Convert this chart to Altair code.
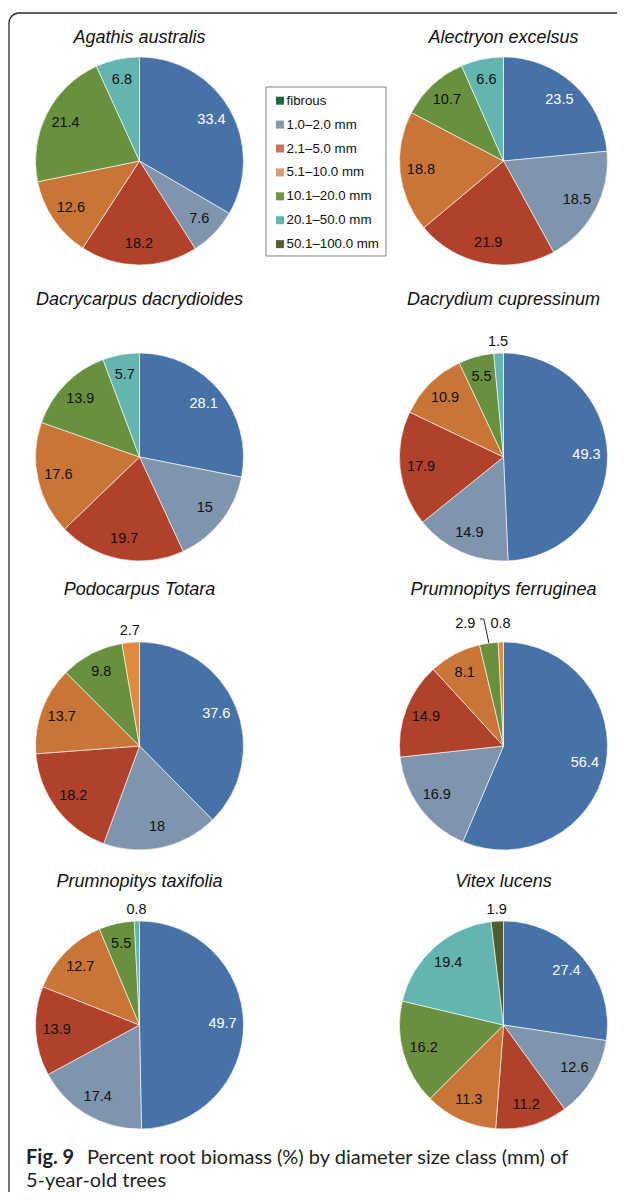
import altair as alt
import pandas as pd

# ---------------- data ----------------
SPECIES = [
    "Agathis australis", "Alectryon excelsus",
    "Dacrycarpus dacrydioides", "Dacrydium cupressinum",
    "Podocarpus Totara", "Prumnopitys ferruginea",
    "Prumnopitys taxifolia", "Vitex lucens",
]
CLASSES = ["fibrous", "1.0–2.0 mm", "2.1–5.0 mm", "5.1–10.0 mm",
           "10.1–20.0 mm", "20.1–50.0 mm", "50.1–100.0 mm"]

AGATHIS = [33.4, 7.6, 18.2, 12.6, 21.4, 6.8]
ALECTRYON = [23.5, 18.5, 21.9, 18.8, 10.7, 6.6]
DACRYCARPUS = [28.1, 15, 19.7, 17.6, 13.9, 5.7]
DACRYDIUM = [49.3, 14.9, 17.9, 10.9, 5.5, 1.5]
PODOCARPUS = [37.6, 18, 18.2, 13.7, 9.8, 2.7]
FERRUGINEA = [56.4, 16.9, 14.9, 8.1, 2.9, 0.8]
TAXIFOLIA = [49.7, 17.4, 13.9, 12.7, 5.5, 0.8]
VITEX = [27.4, 12.6, 11.2, 11.3, 16.2, 19.4, 1.9]
VALUES = [AGATHIS, ALECTRYON, DACRYCARPUS, DACRYDIUM,
          PODOCARPUS, FERRUGINEA, TAXIFOLIA, VITEX]

CAPTION_BOLD = "Fig. 9"
CAPTION_LINE1 = "Percent root biomass (%) by diameter size class (mm) of"
CAPTION_LINE2 = "5-year-old trees"

# ---------------- styles ----------------
PIE_KEYS = CLASSES + ["alt"]
PIE_COLORS = ["#4672a8", "#7f95ad", "#b0412a", "#c97538",
              "#69913d", "#63b6af", "#505c2b", "#e08b3b"]
ALT_SLICE_SPECIES = ["Podocarpus Totara", "Prumnopitys ferruginea"]
LEGEND_COLORS = ["#1d6b3f", "#8498af", "#c8735b", "#dc9c70",
                 "#6b9744", "#62b8b1", "#55602f"]

FONT = "Liberation Sans"
CAP_FONT = "Lato"

# layout (view coordinates; page = view + 8)
PIE_X = [131.5, 495.5]
PIE_Y = [153, 449, 738, 1017]
TITLE_Y = [30, 292, 582, 874]
R = 104
R_IN = 83
R_OUT = 115

records = []
for p, (sp, vals) in enumerate(zip(SPECIES, VALUES)):
    for k, v in enumerate(vals):
        key = "alt" if (sp in ALT_SLICE_SPECIES and k == 5) else CLASSES[k]
        records.append({"species": sp, "panel": p, "order": k,
                        "cls": CLASSES[k], "ckey": key,
                        "value": v, "lab": f"{v:g}"})
df = pd.DataFrame(records)

cx_expr = f"datum.panel % 2 == 0 ? {PIE_X[0]} : {PIE_X[1]}"
cy_expr = f"{PIE_Y}[floor(datum.panel / 2)]"
ty_expr = f"{TITLE_Y}[floor(datum.panel / 2)]"

base = (
    alt.Chart(df)
    .transform_joinaggregate(total="sum(value)", groupby=["species"])
    .transform_window(cum="sum(value)", nxt="lead(value)", prv="lag(value)",
                      groupby=["species"], sort=[alt.SortField("order")],
                      frame=[None, 0])
    .transform_calculate(
        start="100 * (datum.cum - datum.value) / datum.total",
        end="100 * datum.cum / datum.total",
        ang="2 * PI * (datum.cum - datum.value / 2) / datum.total",
        cx=cx_expr,
        cy=cy_expr,
    )
    .transform_calculate(
        snext="datum.nxt != null && datum.nxt < 4",
        sprev="datum.prv != null && datum.prv < 4",
    )
)

pies = base.mark_arc(outerRadius=R, stroke="white", strokeWidth=0.6).encode(
    x=alt.X("cx:Q", scale=None, axis=None),
    y=alt.Y("cy:Q", scale=None, axis=None),
    theta=alt.Theta("start:Q", scale=alt.Scale(domain=[0, 100]), stack=None),
    theta2="end:Q",
    color=alt.Color("ckey:N", scale=alt.Scale(domain=PIE_KEYS, range=PIE_COLORS), legend=None),
)

inside = (
    base.transform_filter("datum.value >= 4")
    .transform_calculate(
        lx=f"datum.cx + {R_IN} * sin(datum.ang)",
        ly=f"datum.cy - {R_IN} * cos(datum.ang)",
    )
    .mark_text(font=FONT, fontSize=14.5, baseline="middle", align="center")
    .encode(
        x=alt.X("lx:Q", scale=None, axis=None),
        y=alt.Y("ly:Q", scale=None, axis=None),
        text="lab:N",
        color=alt.condition("datum.order == 0", alt.value("white"), alt.value("#111111")),
    )
)

outside = (
    base.transform_filter("datum.value < 4")
    .transform_calculate(
        lx=f"datum.cx + {R_OUT} * sin(datum.ang) + (datum.snext ? -22 : 0)",
        ly=f"(datum.snext || datum.sprev) ? datum.cy - 122 : datum.cy - {R_OUT} * cos(datum.ang)",
    )
    .mark_text(font=FONT, fontSize=14.5, baseline="middle", align="center", color="#111111")
    .encode(
        x=alt.X("lx:Q", scale=None, axis=None),
        y=alt.Y("ly:Q", scale=None, axis=None),
        text="lab:N",
    )
)

leader_base = base.transform_filter("datum.value < 4 && datum.snext").transform_calculate(
    ex=f"datum.cx + {R} * sin(datum.ang)",
    ey=f"datum.cy - {R} * cos(datum.ang)",
).transform_calculate(
    kx="datum.ex - 5",
    ky="datum.cy - 127",
    hx="datum.ex - 9",
)
leader1 = leader_base.mark_rule(color="#222222", strokeWidth=1).encode(
    x=alt.X("ex:Q", scale=None, axis=None), y=alt.Y("ey:Q", scale=None, axis=None),
    x2="kx:Q", y2="ky:Q",
)
leader2 = leader_base.mark_rule(color="#222222", strokeWidth=1).encode(
    x=alt.X("kx:Q", scale=None, axis=None), y=alt.Y("ky:Q", scale=None, axis=None),
    x2="hx:Q", y2="ky:Q",
)

titles = (
    alt.Chart(pd.DataFrame({"species": SPECIES, "panel": list(range(len(SPECIES)))}))
    .transform_calculate(tx=cx_expr, ty=ty_expr)
    .mark_text(font=FONT, fontSize=18, fontStyle="italic", baseline="middle",
               align="center", color="#111111")
    .encode(x=alt.X("tx:Q", scale=None, axis=None),
            y=alt.Y("ty:Q", scale=None, axis=None),
            text="species:N")
)

# legend
leg_df = pd.DataFrame({"cls": CLASSES, "i": list(range(len(CLASSES)))})
leg_base = alt.Chart(leg_df).transform_calculate(ly="92.7 + 23.9 * datum.i")
leg_sw = leg_base.mark_square(size=64, filled=True, opacity=1).encode(
    x=alt.value(272),
    y=alt.Y("ly:Q", scale=None, axis=None),
    color=alt.Color("cls:N", scale=alt.Scale(domain=CLASSES, range=LEGEND_COLORS), legend=None),
)
leg_tx = leg_base.mark_text(font=FONT, fontSize=13.3, align="left", baseline="middle",
                            color="#111111").encode(
    x=alt.value(278.5),
    y=alt.Y("ly:Q", scale=None, axis=None),
    text="cls:N",
)
one = pd.DataFrame({"a": [0]})
leg_box = alt.Chart(one).mark_rect(fillOpacity=0, stroke="#808080", strokeWidth=1).encode(
    x=alt.value(258), x2=alt.value(378), y=alt.value(79), y2=alt.value(248),
)

frame = alt.Chart(one).mark_rect(fillOpacity=0, stroke="#2a2a2a", strokeWidth=1.3,
                                 cornerRadius=10).encode(
    x=alt.value(1), x2=alt.value(800), y=alt.value(5), y2=alt.value(1500),
)

cap_bold = alt.Chart(pd.DataFrame({"t": [CAPTION_BOLD]})).mark_text(
    font=CAP_FONT, fontSize=20, fontWeight="bold", align="left", baseline="alphabetic",
    color="#222222").encode(x=alt.value(18), y=alt.value(1156), text="t:N")
cap_1 = alt.Chart(pd.DataFrame({"t": [CAPTION_LINE1]})).mark_text(
    font=CAP_FONT, fontSize=20, align="left", baseline="alphabetic",
    color="#222222").encode(x=alt.value(79), y=alt.value(1156), text="t:N")
cap_2 = alt.Chart(pd.DataFrame({"t": [CAPTION_LINE2]})).mark_text(
    font=CAP_FONT, fontSize=20, align="left", baseline="alphabetic",
    color="#222222").encode(x=alt.value(18), y=alt.value(1179), text="t:N")

chart = (
    alt.layer(frame, pies, inside, outside, leader1, leader2, titles,
              leg_box, leg_sw, leg_tx, cap_bold, cap_1, cap_2)
    .resolve_scale(color="independent")
    .properties(width=609, height=1184, autosize=alt.AutoSizeParams(type="none"), padding=0)
    .configure_view(stroke="transparent")
)

chart.save("out.html", embed_options={"renderer": "svg", "actions": False})
